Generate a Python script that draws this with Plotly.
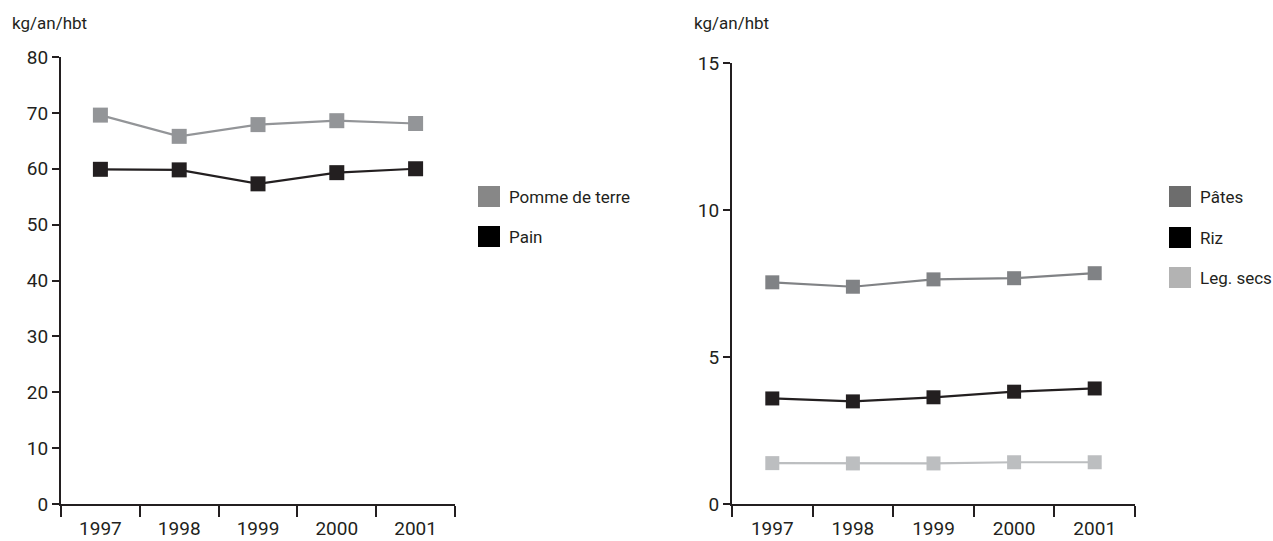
import plotly.graph_objects as go

years = ["1997", "1998", "1999", "2000", "2001"]
pomme = [69.6, 65.8, 67.9, 68.6, 68.1]
pain = [59.9, 59.8, 57.3, 59.3, 60.0]
pates = [7.54, 7.39, 7.64, 7.68, 7.85]
riz = [3.59, 3.49, 3.63, 3.82, 3.93]
legsecs = [1.39, 1.38, 1.38, 1.42, 1.42]

FONT = "Roboto, Arial, sans-serif"
W, H = 1273, 541
MT, MB = 57, 37
PH = H - MT - MB

fig = go.Figure()

def add_series(y, color, xa, ya, size):
    fig.add_trace(go.Scatter(
        x=years, y=y, mode="lines+markers", xaxis=xa, yaxis=ya,
        line=dict(color=color, width=2.2),
        marker=dict(symbol="square", size=size, color=color),
        showlegend=False, hoverinfo="x+y"))

add_series(pomme, "#939598", "x", "y", 15)
add_series(pain, "#231f20", "x", "y", 15)
add_series(pates, "#808285", "x2", "y2", 14)
add_series(riz, "#231f20", "x2", "y2", 14)
add_series(legsecs, "#bcbec0", "x2", "y2", 14)

tickfont = dict(family=FONT, size=19, color="#231f20")
xcommon = dict(type="category", range=[-0.5, 4.5], tickson="boundaries",
               ticks="outside", ticklen=11, tickwidth=1.5, tickcolor="#231f20",
               showline=True, linewidth=2.2, linecolor="#231f20",
               showgrid=False, zeroline=False, tickfont=tickfont,
               ticklabelstandoff=6)
ycommon = dict(ticks="outside", ticklen=7, tickwidth=1.5, tickcolor="#231f20",
               showline=True, linewidth=2.2, linecolor="#231f20",
               showgrid=False, zeroline=False, tickfont=tickfont)

fig.update_layout(
    width=W, height=H,
    margin=dict(l=0, r=0, t=MT, b=MB, autoexpand=False),
    paper_bgcolor="white", plot_bgcolor="white",
    font=dict(family=FONT, color="#231f20"),
    xaxis=dict(domain=[61 / W, 455 / W], anchor="y", **xcommon),
    yaxis=dict(domain=[0, 1], anchor="x", range=[0, 80], dtick=10, **ycommon),
    xaxis2=dict(domain=[732 / W, 1135 / W], anchor="y2", **xcommon),
    yaxis2=dict(domain=[0, (504 - 63) / PH], anchor="x2", range=[0, 15], dtick=5, **ycommon),
)

def px_to_paper_y(py):
    return (H - MB - py) / PH

ann = []
shapes = []
for x0 in (10, 692):
    ann.append(dict(text="kg/an/hbt", x=x0 / W, y=px_to_paper_y(23), xref="paper", yref="paper",
                    xanchor="left", yanchor="middle", showarrow=False,
                    font=dict(family=FONT, size=17, color="#231f20")))

legend_items = [
    ("Pomme de terre", "#878787", 478, 186),
    ("Pain", "#000000", 478, 226),
    ("Pâtes", "#6d6d6d", 1169, 186),
    ("Riz", "#000000", 1169, 227),
    ("Leg. secs", "#b3b3b3", 1169, 267),
]
for name, col, lx, ty in legend_items:
    shapes.append(dict(type="rect", xref="paper", yref="paper",
                       x0=lx / W, x1=(lx + 22) / W,
                       y0=px_to_paper_y(ty + 21), y1=px_to_paper_y(ty),
                       fillcolor=col, line=dict(width=0)))
    ann.append(dict(text=name, x=(lx + 29) / W, y=px_to_paper_y(ty + 11),
                    xref="paper", yref="paper", xanchor="left", yanchor="middle",
                    showarrow=False, font=dict(family=FONT, size=17, color="#231f20")))

fig.update_layout(annotations=ann, shapes=shapes)
fig.write_html("out.html", config={"displayModeBar": False},
               post_script="document.body.style.margin='0';document.body.style.overflow='hidden';")
